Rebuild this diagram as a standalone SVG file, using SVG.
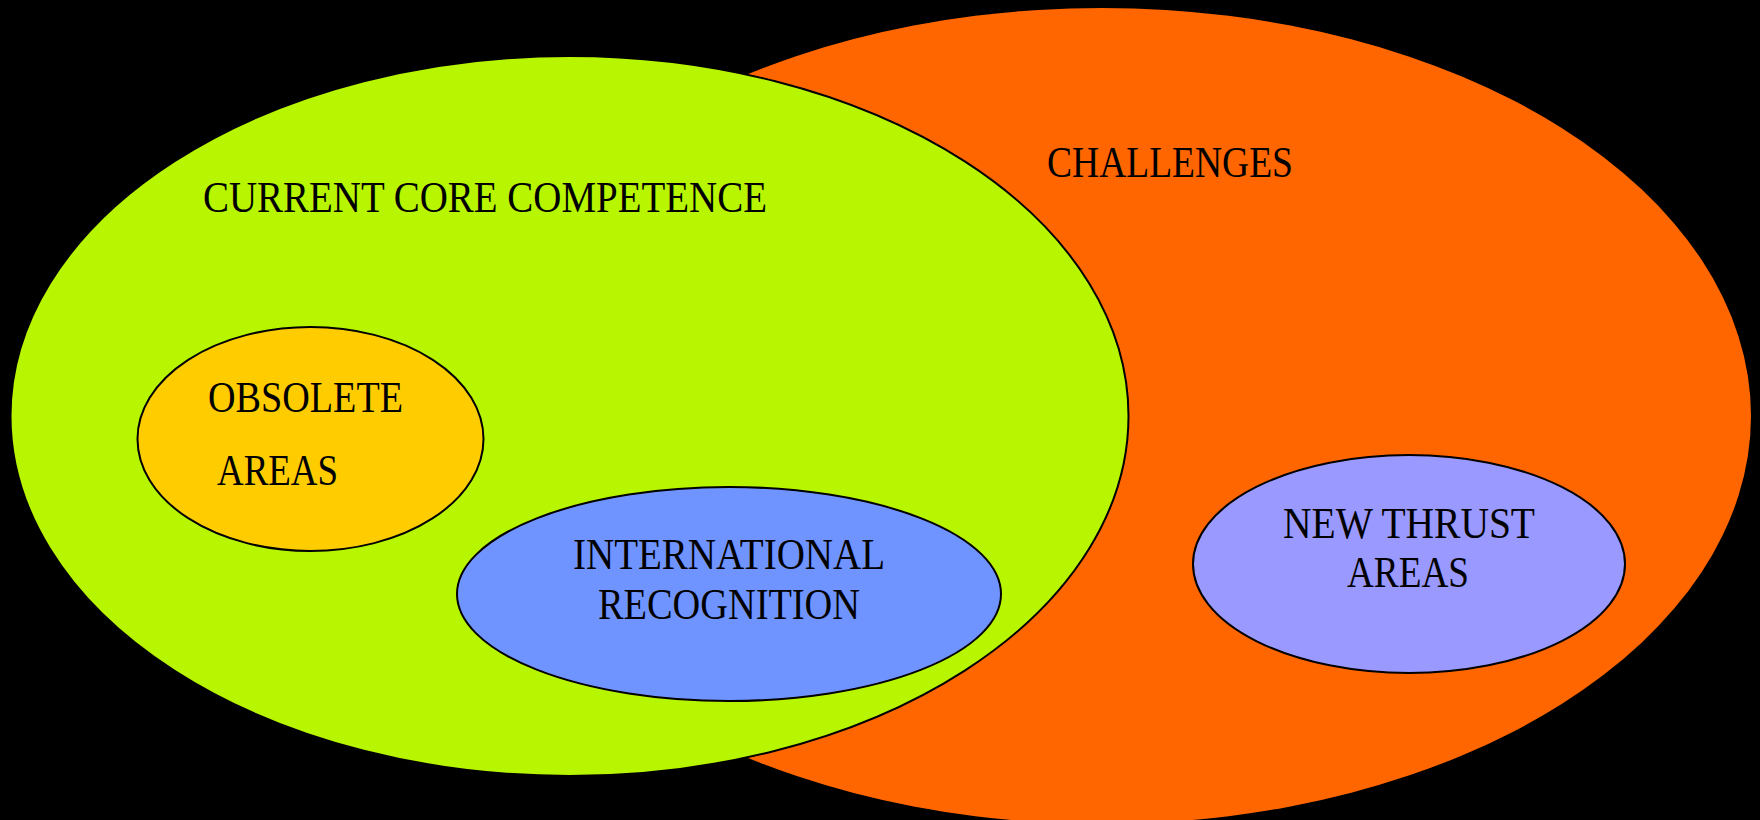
<svg xmlns="http://www.w3.org/2000/svg" width="1760" height="820" viewBox="0 0 1760 820">
<style>
.lbl{font-family:"Liberation Serif","Times New Roman",serif;font-size:44px;fill:#000;}
.c{text-anchor:middle;}
.edge{stroke:#000;stroke-width:2;}
</style>
<rect x="0" y="0" width="1760" height="820" fill="#000"/>
<g id="challenges">
<ellipse cx="1102" cy="416" rx="649" ry="408" fill="#FF6600"/>
<text class="lbl" x="1047" y="177" textLength="246" lengthAdjust="spacingAndGlyphs">CHALLENGES</text>
</g>
<g id="current-core-competence">
<ellipse class="edge" cx="569.5" cy="416" rx="559" ry="360" fill="#B8F500"/>
<text class="lbl" x="203" y="212" style="font-size:45px" textLength="564" lengthAdjust="spacingAndGlyphs">CURRENT CORE COMPETENCE</text>
</g>
<g id="obsolete-areas">
<ellipse class="edge" cx="310.5" cy="439" rx="173" ry="112" fill="#FFCC00"/>
<text class="lbl" x="208" y="412" textLength="195" lengthAdjust="spacingAndGlyphs">OBSOLETE</text>
<text class="lbl" x="217" y="485" textLength="121" lengthAdjust="spacingAndGlyphs">AREAS</text>
</g>
<g id="international-recognition">
<ellipse class="edge" cx="729" cy="594" rx="272" ry="107" fill="#7094FF"/>
<text class="lbl c" x="729" y="569" textLength="312" lengthAdjust="spacingAndGlyphs">INTERNATIONAL</text>
<text class="lbl c" x="729" y="619" textLength="262" lengthAdjust="spacingAndGlyphs">RECOGNITION</text>
</g>
<g id="new-thrust-areas">
<ellipse class="edge" cx="1409" cy="564" rx="216" ry="109" fill="#9999FF"/>
<text class="lbl c" x="1409" y="538" textLength="252" lengthAdjust="spacingAndGlyphs">NEW THRUST</text>
<text class="lbl c" x="1408" y="587" textLength="122" lengthAdjust="spacingAndGlyphs">AREAS</text>
</g>
<g id="connectors"></g>
</svg>
